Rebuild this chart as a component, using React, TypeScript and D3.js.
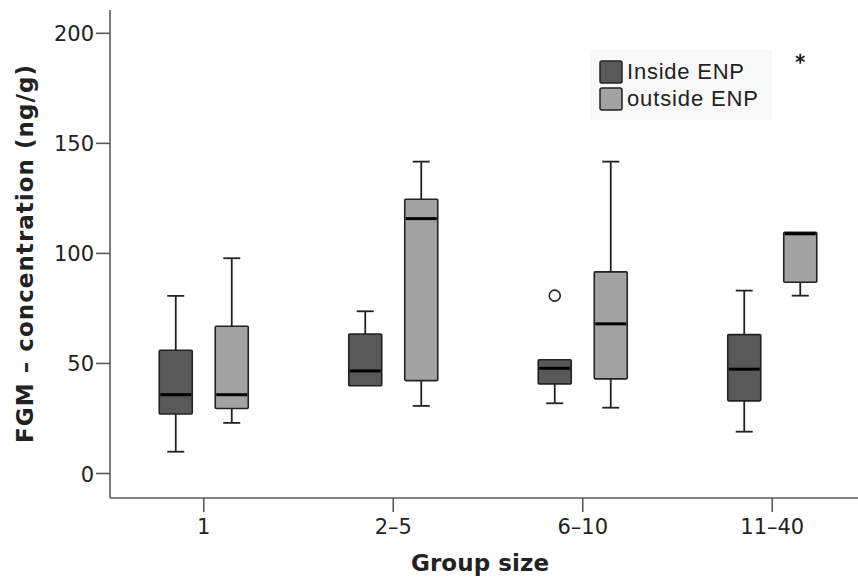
import React, { useEffect, useRef } from 'react';
import * as d3 from 'd3';

// group sizes on the x axis
const categories = ['1', '2–5', '6–10', '11–40'];
const seriesNames = ['Inside ENP', 'outside ENP'];

// box stats: [min, q1, median, q3, max]
const insideStats = [
  [9.9, 27, 35.8, 56, 80.7],
  [39.9, 39.9, 46.6, 63.4, 73.7],
  [31.9, 40.7, 47.8, 51.7, 51.7],
  [19, 33, 47.4, 63.1, 83.1],
];
const outsideStats = [
  [23, 29.5, 35.8, 66.9, 97.8],
  [30.7, 42.2, 115.8, 124.6, 141.7],
  [29.9, 43, 68, 91.6, 141.7],
  [80.8, 86.9, 108.9, 109.6, 109.6],
];

// outliers (circle) and extremes (star): [group, series, value]
const outliers = [[2, 0, 80.8]];
const extremes = [[3, 1, 188.4]];

const yTicks = [0, 50, 100, 150, 200];
const colors = ['#595959', '#a3a3a3'];

const BoxPlot = () => {
  const chartRef = useRef(null);

  useEffect(() => {
    const width = 858;
    const height = 581;

    const svg = d3.select(chartRef.current);
    svg.selectAll('*').remove();
    svg.attr('width', width).attr('height', height);

    const x = d3.scaleBand().domain(categories).range([109, 867]);
    const x1 = d3.scaleBand().domain(seriesNames).range([-56, 56]);
    const y = d3.scaleLinear().domain([0, 200]).range([473.5, 33.3]);
    const boxW = 33;
    const capW = 17;
    const axisColor = '#5a5a5a';
    const tickFont = 'DejaVu Sans, sans-serif';

    // axes lines
    svg.append('line')
      .attr('x1', 110).attr('x2', 110).attr('y1', 10).attr('y2', 498)
      .style('stroke', axisColor).style('stroke-width', 1.6);
    svg.append('line')
      .attr('x1', 110).attr('x2', width).attr('y1', 498).attr('y2', 498)
      .style('stroke', axisColor).style('stroke-width', 1.6);

    // y ticks
    yTicks.forEach(t => {
      svg.append('line')
        .attr('x1', 96).attr('x2', 110).attr('y1', y(t)).attr('y2', y(t))
        .style('stroke', axisColor).style('stroke-width', 1.6);
      svg.append('text')
        .attr('x', 94).attr('y', y(t) + 8)
        .style('text-anchor', 'end')
        .style('font-family', tickFont)
        .style('font-size', '21px')
        .style('fill', '#222')
        .text(t);
    });

    // x ticks
    categories.forEach(c => {
      const cx = x(c) + x.bandwidth() / 2;
      svg.append('line')
        .attr('x1', cx).attr('x2', cx).attr('y1', 498).attr('y2', 512)
        .style('stroke', axisColor).style('stroke-width', 1.6);
      svg.append('text')
        .attr('x', cx).attr('y', 534)
        .style('text-anchor', 'middle')
        .style('font-family', tickFont)
        .style('font-size', '21px')
        .style('fill', '#222')
        .text(c);
    });

    // axis titles
    svg.append('text')
      .attr('x', 480).attr('y', 571)
      .attr('textLength', 138)
      .style('text-anchor', 'middle')
      .style('font-family', tickFont)
      .style('font-weight', 'bold')
      .style('font-size', '23px')
      .style('fill', '#222')
      .text('Group size');
    svg.append('text')
      .attr('transform', 'translate(33,254) rotate(-90)')
      .attr('textLength', 378)
      .style('text-anchor', 'middle')
      .style('font-family', tickFont)
      .style('font-weight', 'bold')
      .style('font-size', '23px')
      .style('fill', '#222')
      .text('FGM – concentration (ng/g)');

    // boxes
    [insideStats, outsideStats].forEach((stats, s) => {
      stats.forEach((d, i) => {
        const [mn, q1, med, q3, mx] = d;
        const cx = x(categories[i]) + x.bandwidth() / 2 + x1(seriesNames[s]) + x1.bandwidth() / 2;
        const g = svg.append('g');
        // whiskers
        if (mx > q3) {
          g.append('line').attr('x1', cx).attr('x2', cx).attr('y1', y(mx)).attr('y2', y(q3))
            .style('stroke', '#222').style('stroke-width', 1.8);
          g.append('line').attr('x1', cx - capW / 2).attr('x2', cx + capW / 2).attr('y1', y(mx)).attr('y2', y(mx))
            .style('stroke', '#222').style('stroke-width', 1.8);
        }
        if (mn < q1) {
          g.append('line').attr('x1', cx).attr('x2', cx).attr('y1', y(q1)).attr('y2', y(mn))
            .style('stroke', '#222').style('stroke-width', 1.8);
          g.append('line').attr('x1', cx - capW / 2).attr('x2', cx + capW / 2).attr('y1', y(mn)).attr('y2', y(mn))
            .style('stroke', '#222').style('stroke-width', 1.8);
        }
        g.append('rect')
          .attr('x', cx - boxW / 2).attr('y', y(q3))
          .attr('width', boxW).attr('height', y(q1) - y(q3))
          .attr('rx', 1)
          .style('fill', colors[s])
          .style('stroke', '#222')
          .style('stroke-width', 1.6);
        g.append('line')
          .attr('x1', cx - boxW / 2 + 1).attr('x2', cx + boxW / 2 - 1)
          .attr('y1', y(med)).attr('y2', y(med))
          .style('stroke', '#000').style('stroke-width', 3);
      });
    });

    // outliers
    outliers.forEach(([gi, s, v]) => {
      const cx = x(categories[gi]) + x.bandwidth() / 2 + x1(seriesNames[s]) + x1.bandwidth() / 2;
      svg.append('circle')
        .attr('cx', cx).attr('cy', y(v)).attr('r', 5.5)
        .style('fill', '#fff').style('stroke', '#222').style('stroke-width', 1.6);
    });

    // extremes
    extremes.forEach(([gi, s, v]) => {
      const cx = x(categories[gi]) + x.bandwidth() / 2 + x1(seriesNames[s]) + x1.bandwidth() / 2;
      svg.append('path')
        .attr('transform', `translate(${cx},${y(v)})`)
        .attr('d', d3.symbol(d3.symbolAsterisk, 70)())
        .style('fill', 'none').style('stroke', '#222').style('stroke-width', 1.8);
    });

    // legend
    const legend = svg.append('g');
    legend.append('rect')
      .attr('x', 590).attr('y', 50).attr('width', 182).attr('height', 70)
      .style('fill', '#f9f9f9');
    const legendW = [117, 131];
    seriesNames.forEach((name, s) => {
      const ly = 61 + s * 27;
      legend.append('rect')
        .attr('x', 600).attr('y', ly).attr('width', 22).attr('height', 22).attr('rx', 2)
        .style('fill', colors[s]).style('stroke', '#222').style('stroke-width', 1.5);
      legend.append('text')
        .attr('x', 627).attr('y', ly + 18)
        .attr('textLength', legendW[s])
        .style('font-family', 'Liberation Sans, Arial, sans-serif')
        .style('font-size', '22px')
        .style('fill', '#222')
        .text(name);
    });
  }, []);

  return (
    <div style={{ position: 'absolute', left: 0, top: 0, width: 858, height: 581, background: '#fff' }}>
      <svg ref={chartRef} style={{ display: 'block' }}></svg>
    </div>
  );
};

export default function App() {
  return <BoxPlot />;
}
